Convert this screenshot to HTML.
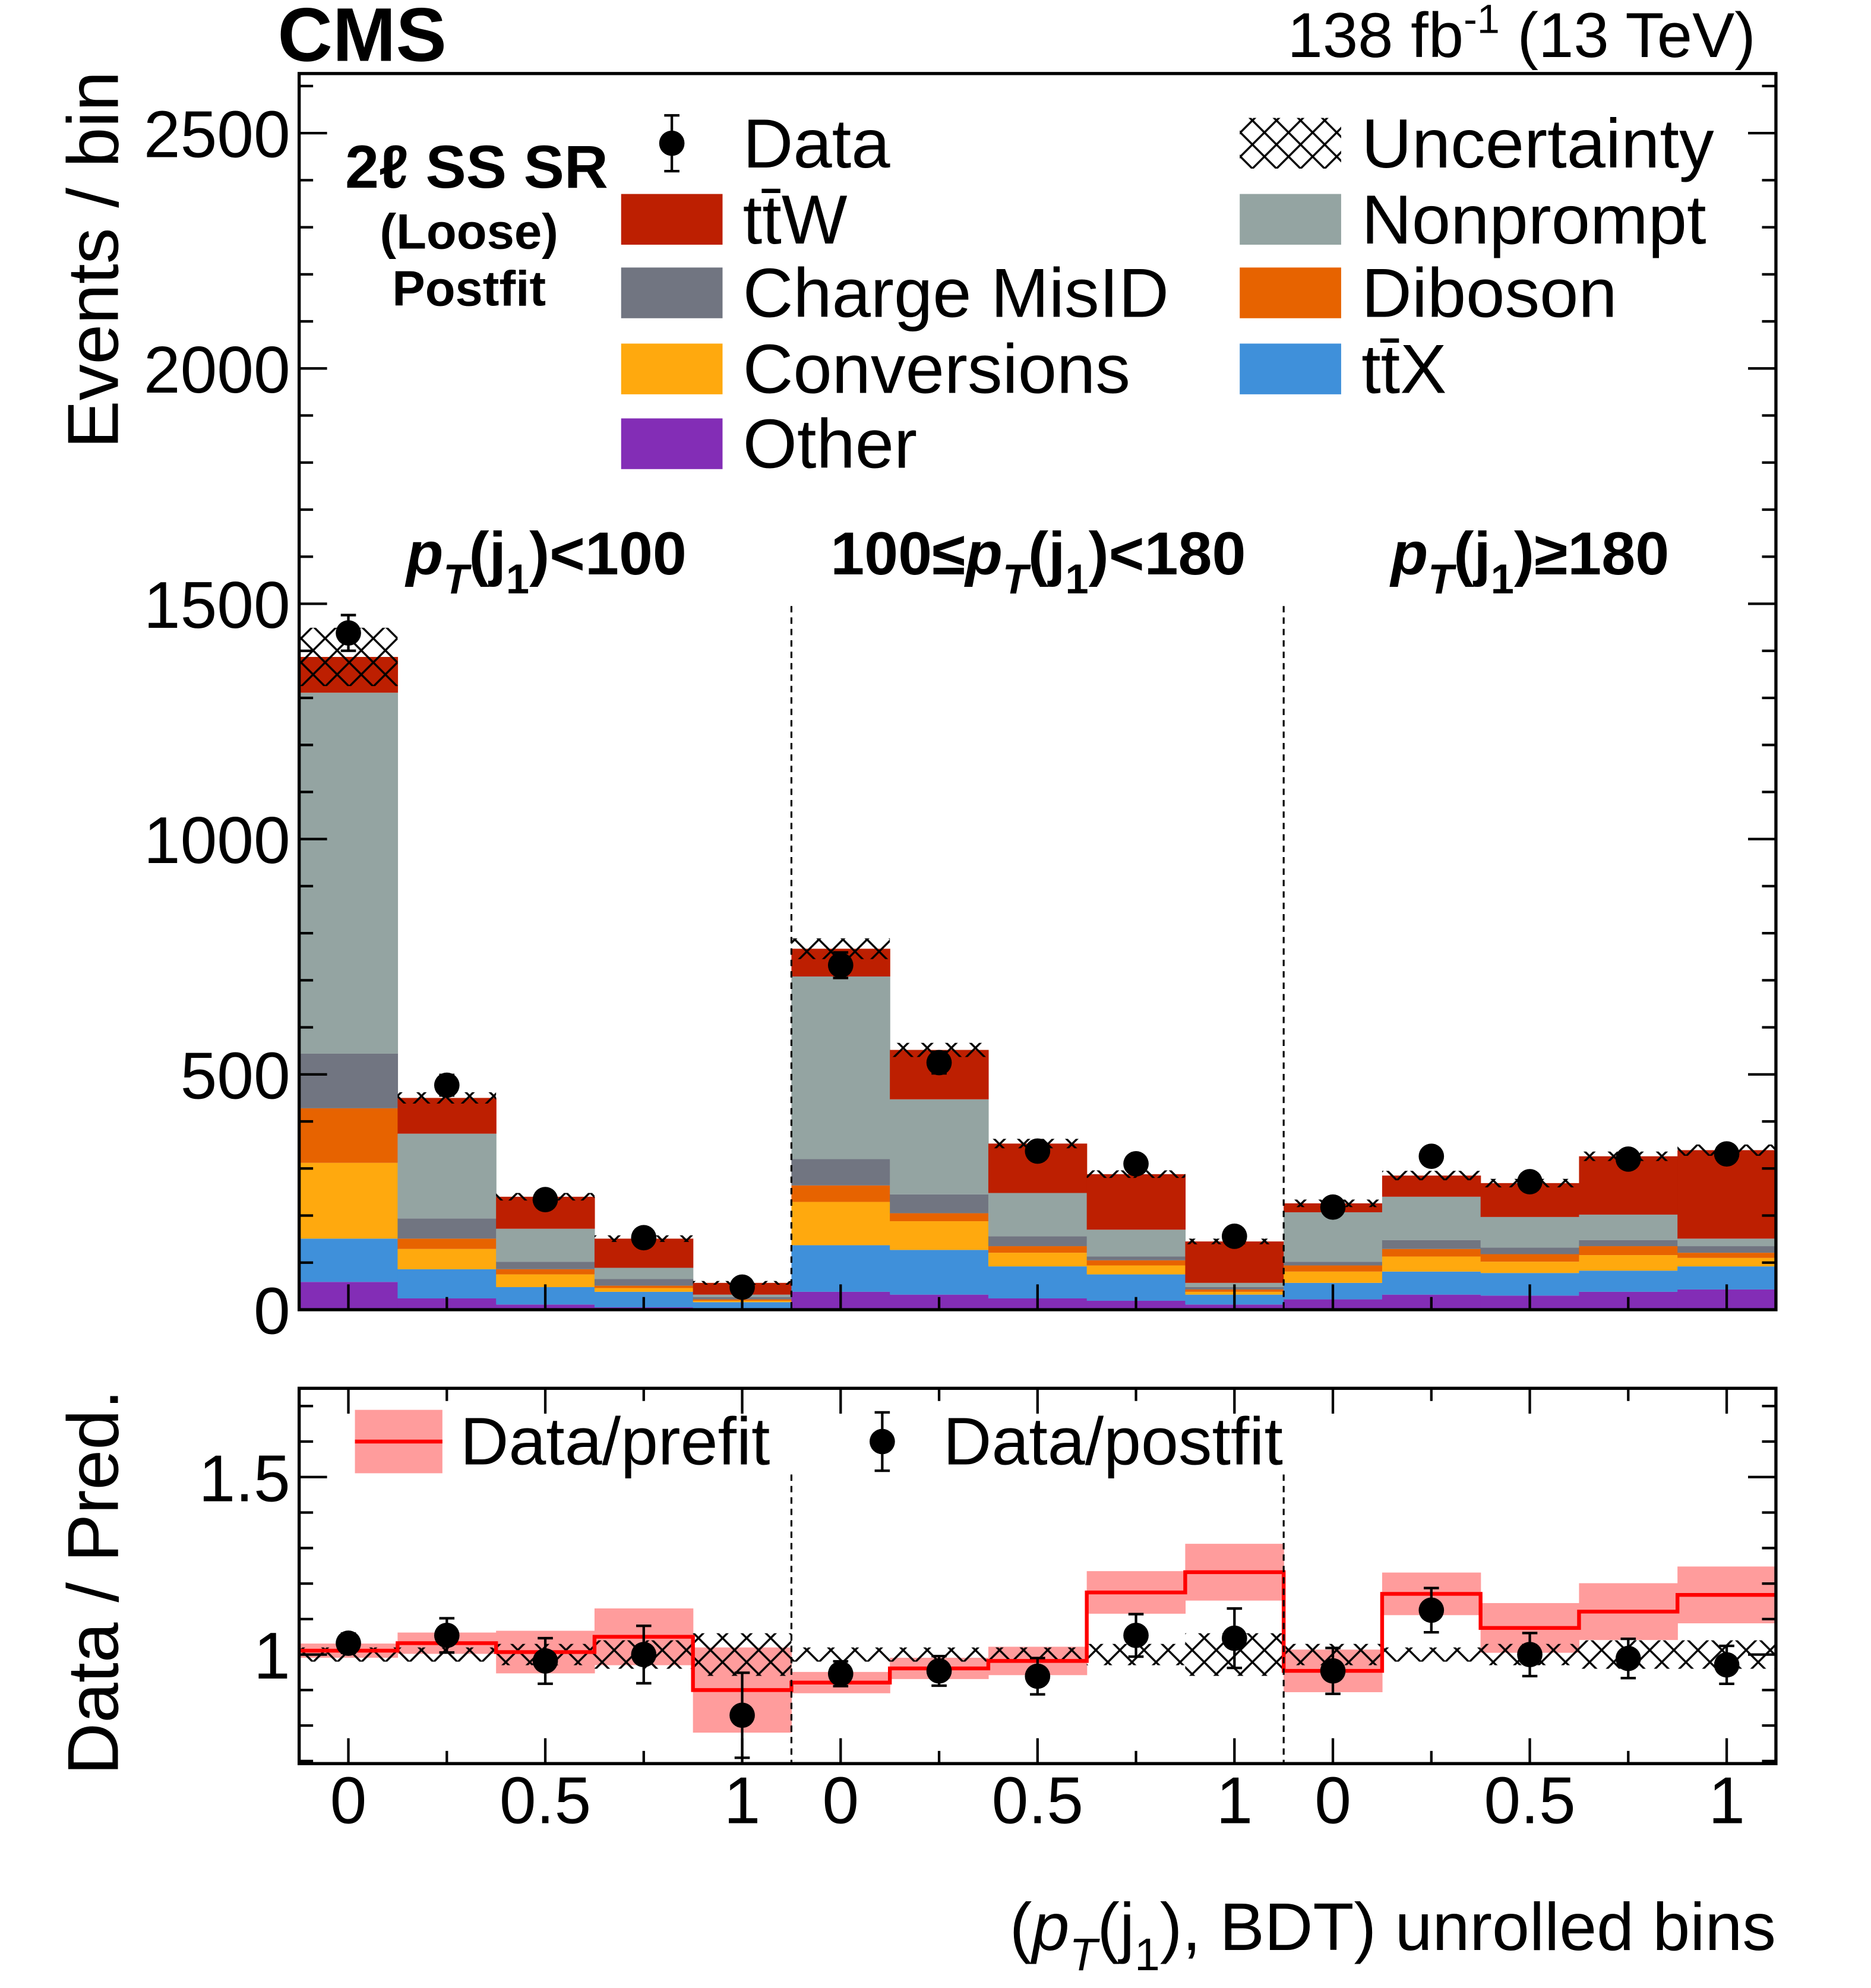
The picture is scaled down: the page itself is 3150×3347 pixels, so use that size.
<!DOCTYPE html>
<html><head><meta charset="utf-8"><style>
html,body{margin:0;padding:0;background:#fff}
svg{display:block}
text{font-family:"Liberation Sans",sans-serif;fill:#000}
</style></head><body>
<svg id="c" width="3150" height="3347" viewBox="0 0 1476 1568" preserveAspectRatio="none" xmlns="http://www.w3.org/2000/svg">
<defs>
<pattern id="hatch" patternUnits="userSpaceOnUse" width="19" height="19">
<path d="M0,0 L19,19 M19,0 L0,19" stroke="#000" stroke-width="1.6" fill="none"/>
</pattern>
<clipPath id="clipMain"><rect x="236" y="58" width="1165" height="975"/></clipPath>
<clipPath id="clipRatio"><rect x="236" y="1095" width="1165" height="296"/></clipPath>
</defs>
<g id="main" clip-path="url(#clipMain)"></g>
<g id="ratio" clip-path="url(#clipRatio)"></g>
<g id="axes"></g>
<text x="219" y="48" font-size="60" font-weight="bold">CMS</text>
<text x="1385" y="45" font-size="50" text-anchor="end">138 fb<tspan font-size="32" dy="-19">-1</tspan><tspan dy="19"> (13 TeV)</tspan></text>
<text transform="translate(93,205) rotate(-90)" font-size="57" text-anchor="middle">Events / bin</text>
<text transform="translate(93,1248) rotate(-90)" font-size="57" text-anchor="middle">Data / Pred.</text>
<text x="1401" y="1538" font-size="53" text-anchor="end">(<tspan font-style="italic">p</tspan><tspan font-size="36" font-style="italic" dy="16">T</tspan><tspan dy="-16">(j</tspan><tspan font-size="36" dy="16">1</tspan><tspan dy="-16">), BDT) unrolled bins</tspan></text>
<g>
<text x="431" y="453" font-size="48" font-weight="bold" text-anchor="middle"><tspan font-style="italic">p</tspan><tspan font-size="33" font-style="italic" dy="15">T</tspan><tspan dy="-15">(j</tspan><tspan font-size="33" dy="15">1</tspan><tspan dy="-15">)&lt;100</tspan></text>
<text x="819" y="453" font-size="48" font-weight="bold" text-anchor="middle">100≤<tspan font-style="italic">p</tspan><tspan font-size="33" font-style="italic" dy="15">T</tspan><tspan dy="-15">(j</tspan><tspan font-size="33" dy="15">1</tspan><tspan dy="-15">)&lt;180</tspan></text>
<text x="1207" y="453" font-size="48" font-weight="bold" text-anchor="middle"><tspan font-style="italic">p</tspan><tspan font-size="33" font-style="italic" dy="15">T</tspan><tspan dy="-15">(j</tspan><tspan font-size="33" dy="15">1</tspan><tspan dy="-15">)≥180</tspan></text>
</g>
<g>
<text x="376" y="148" font-size="48" font-weight="bold" text-anchor="middle">2ℓ SS SR</text>
<text x="370" y="196" font-size="39" font-weight="bold" text-anchor="middle">(Loose)</text>
<text x="370" y="241" font-size="39" font-weight="bold" text-anchor="middle">Postfit</text>
</g>
<g id="legend"></g>
<g>
<rect x="280" y="1112" width="69" height="50" fill="#ff9c9c"/>
<line x1="280" y1="1137" x2="349" y2="1137" stroke="#ff0000" stroke-width="3"/>
<text x="363" y="1155" font-size="53">Data/prefit</text>
<line x1="696" y1="1114" x2="696" y2="1160" stroke="#000" stroke-width="2"/>
<line x1="690" y1="1114" x2="702" y2="1114" stroke="#000" stroke-width="2"/>
<line x1="690" y1="1160" x2="702" y2="1160" stroke="#000" stroke-width="2"/>
<circle cx="696" cy="1137" r="10" fill="#000"/>
<text x="744" y="1155" font-size="53">Data/postfit</text>
</g>
</svg>
<script>
const other=[59,24,11,5,3,38,32,24,19,11,22,32,30,38,43];
const ttx=[92,62,37,33,13,99,95,68,56,21,35,49,48,45,49];
const conversions=[161,43,27,8,3,92,61,29,19,6,24,32,24,33,18];
const diboson=[116,22,11,5,3,35,17,14,11,5,13,16,16,19,11];
const chargeMisID=[116,43,16,14,5,56,40,21,8,5,8,19,14,13,14];
const nonprompt=[767,180,70,24,5,388,202,92,57,9,105,92,65,54,16];
const ttw=[76,76,68,62,25,59,105,105,118,88,19,45,72,124,188];
const data=[1438,477,234,153,48,732,525,337,310,156,218,326,272,320,331];
const totUnc=[62,12,8,7,4,22,15,10,8,6,8,10,9,10,12];
const ratioPostfit=[1.032,1.054,0.982,1.0,0.829,0.946,0.954,0.939,1.054,1.046,0.954,1.125,1.0,0.989,0.971];
const ratioPrefit=[1.011,1.032,1.007,1.05,0.9,0.921,0.961,0.982,1.175,1.232,0.954,1.171,1.075,1.121,1.168];
const prefitUnc=[0.02,0.03,0.06,0.08,0.12,0.03,0.03,0.04,0.06,0.08,0.06,0.06,0.07,0.08,0.08];
const postfitUnc=[0.02,0.02,0.03,0.04,0.06,0.02,0.02,0.02,0.03,0.06,0.03,0.02,0.03,0.04,0.04];
const yTicks=[0,500,1000,1500,2000,2500];
const rTicks=[1,1.5];
const xTickLabels=["0","0.5","1"];

const NS="http://www.w3.org/2000/svg";
const X0=236,X1=1401,NB=15,BW=(X1-X0)/NB;
const xb=i=>X0+i*BW;
const xc=i=>X0+(i+0.5)*BW;
const yM=v=>1033-v*(1033-105)/2500;
const yR=r=>1305-(r-1)*280;
function el(tag,attrs,parent){const e=document.createElementNS(NS,tag);for(const k in attrs)e.setAttribute(k,attrs[k]);parent.appendChild(e);return e;}
const main=document.getElementById('main'),ratio=document.getElementById('ratio'),axes=document.getElementById('axes'),leg=document.getElementById('legend');
const comps=[[other,'#832db6','other'],[ttx,'#3f90da','ttx'],[conversions,'#ffa90e','conversions'],[diboson,'#e76300','diboson'],[chargeMisID,'#717581','charge-misid'],[nonprompt,'#94a4a2','nonprompt'],[ttw,'#bd1f01','ttw']];
for(let i=0;i<NB;i++){
  let cum=0;
  for(const [arr,col,nm] of comps){
    const r=el('rect',{x:xb(i),y:yM(cum+arr[i]),width:BW+0.3,height:yM(cum)-yM(cum+arr[i]),fill:col},main);
    
    
    cum+=arr[i];
  }
  const h=el('rect',{x:xb(i),y:yM(cum+totUnc[i]),width:BW,height:yM(cum-totUnc[i])-yM(cum+totUnc[i]),fill:'url(#hatch)'},main);
  
  
  const e=Math.sqrt(data[i]);
  const g=el('g',{},main);
  
  
  el('line',{x1:xc(i),x2:xc(i),y1:yM(data[i]+e),y2:yM(data[i]-e),stroke:'#000','stroke-width':2},g);
  el('line',{x1:xc(i)-6,x2:xc(i)+6,y1:yM(data[i]+e),y2:yM(data[i]+e),stroke:'#000','stroke-width':2},g);
  el('line',{x1:xc(i)-6,x2:xc(i)+6,y1:yM(data[i]-e),y2:yM(data[i]-e),stroke:'#000','stroke-width':2},g);
  el('circle',{cx:xc(i),cy:yM(data[i]),r:10,fill:'#000'},g);
  const pb=el('rect',{x:xb(i),y:yR(ratioPrefit[i]+prefitUnc[i]),width:BW+0.3,height:yR(ratioPrefit[i]-prefitUnc[i])-yR(ratioPrefit[i]+prefitUnc[i]),fill:'#ff9c9c'},ratio);
  
  
  const hh=el('rect',{x:xb(i),y:yR(1+postfitUnc[i]),width:BW,height:yR(1-postfitUnc[i])-yR(1+postfitUnc[i]),fill:'url(#hatch)'},ratio);
  
  
}
let d='';
for(let i=0;i<NB;i++){d+=(i==0?'M':'L')+xb(i)+','+yR(ratioPrefit[i])+' L'+xb(i+1)+','+yR(ratioPrefit[i]);}
const pl=el('path',{d:d,stroke:'#ff0000','stroke-width':3,fill:'none'},ratio);


for(let i=0;i<NB;i++){
  const v=ratioPostfit[i],e=v/Math.sqrt(data[i]);
  const g=el('g',{},ratio);
  
  
  el('line',{x1:xc(i),x2:xc(i),y1:yR(v+e),y2:yR(v-e),stroke:'#000','stroke-width':2},g);
  el('line',{x1:xc(i)-6,x2:xc(i)+6,y1:yR(v+e),y2:yR(v+e),stroke:'#000','stroke-width':2},g);
  el('line',{x1:xc(i)-6,x2:xc(i)+6,y1:yR(v-e),y2:yR(v-e),stroke:'#000','stroke-width':2},g);
  el('circle',{cx:xc(i),cy:yR(v),r:10,fill:'#000'},g);
}
const f1=el('rect',{x:X0,y:58,width:X1-X0,height:975,fill:'none',stroke:'#000','stroke-width':2.5},axes);


const f2=el('rect',{x:X0,y:1095,width:X1-X0,height:296,fill:'none',stroke:'#000','stroke-width':2.5},axes);


for(const b of [5,10]){
  const l1=el('line',{x1:xb(b),x2:xb(b),y1:478,y2:1033,stroke:'#000','stroke-width':1.5,'stroke-dasharray':'5,4'},axes);
  
  
  const l2=el('line',{x1:xb(b),x2:xb(b),y1:1163,y2:1391,stroke:'#000','stroke-width':1.5,'stroke-dasharray':'5,4'},axes);
  
  
}
for(let v=0;v<=2600;v+=100){
  const len=v%500==0?22:11;
  el('line',{x1:X0,x2:X0+len,y1:yM(v),y2:yM(v),stroke:'#000','stroke-width':2},axes);
  el('line',{x1:X1,x2:X1-len,y1:yM(v),y2:yM(v),stroke:'#000','stroke-width':2},axes);
}
for(const v of yTicks){
  const t=el('text',{x:229,y:yM(v)+19,'font-size':52,'text-anchor':'end'},axes);
  
  
  t.textContent=v;
}
for(let k=7;k<=17;k++){
  const v=k/10,len=(k%5==0)?22:11;
  el('line',{x1:X0,x2:X0+len,y1:yR(v),y2:yR(v),stroke:'#000','stroke-width':2},axes);
  el('line',{x1:X1,x2:X1-len,y1:yR(v),y2:yR(v),stroke:'#000','stroke-width':2},axes);
}
for(const v of rTicks){
  const t=el('text',{x:229,y:yR(v)+19,'font-size':52,'text-anchor':'end'},axes);
  
  
  t.textContent=v;
}
for(let i=0;i<NB;i++){
  const maj=(i%5)%2==0,len=maj?20:10;
  el('line',{x1:xc(i),x2:xc(i),y1:1033,y2:1033-len,stroke:'#000','stroke-width':2},axes);
  el('line',{x1:xc(i),x2:xc(i),y1:1391,y2:1391-len,stroke:'#000','stroke-width':2},axes);
  el('line',{x1:xc(i),x2:xc(i),y1:1095,y2:1095+len,stroke:'#000','stroke-width':2},axes);
  if(maj){
    const t=el('text',{x:xc(i),y:1438,'font-size':52,'text-anchor':'middle'},axes);
    
    
    t.textContent=xTickLabels[(i%5)/2];
  }
}
const legItems=[['Data',null,490,113],['tt\u0304W','#bd1f01',490,173],['Charge MisID','#717581',490,231],['Conversions','#ffa90e',490,291],['Other','#832db6',490,350],
['Uncertainty','hatch',978,113],['Nonprompt','#94a4a2',978,173],['Diboson','#e76300',978,231],['tt\u0304X','#3f90da',978,291]];
for(const [name,col,x,y] of legItems){
  const g=el('g',{},leg);
  
  
  if(col===null){
    el('line',{x1:530,x2:530,y1:y-22,y2:y+22,stroke:'#000','stroke-width':2},g);
    el('line',{x1:524,x2:536,y1:y-22,y2:y-22,stroke:'#000','stroke-width':2},g);
    el('line',{x1:524,x2:536,y1:y+22,y2:y+22,stroke:'#000','stroke-width':2},g);
    el('circle',{cx:530,cy:y,r:10,fill:'#000'},g);
  } else if(col==='hatch'){
    el('rect',{x:x,y:y-20,width:80,height:40,fill:'url(#hatch)'},g);
  } else {
    el('rect',{x:x,y:y-20,width:80,height:40,fill:col},g);
  }
  const t=el('text',{x:x+96,y:y+19,'font-size':55},g);
  t.textContent=name;
}
</script>
</body></html>
